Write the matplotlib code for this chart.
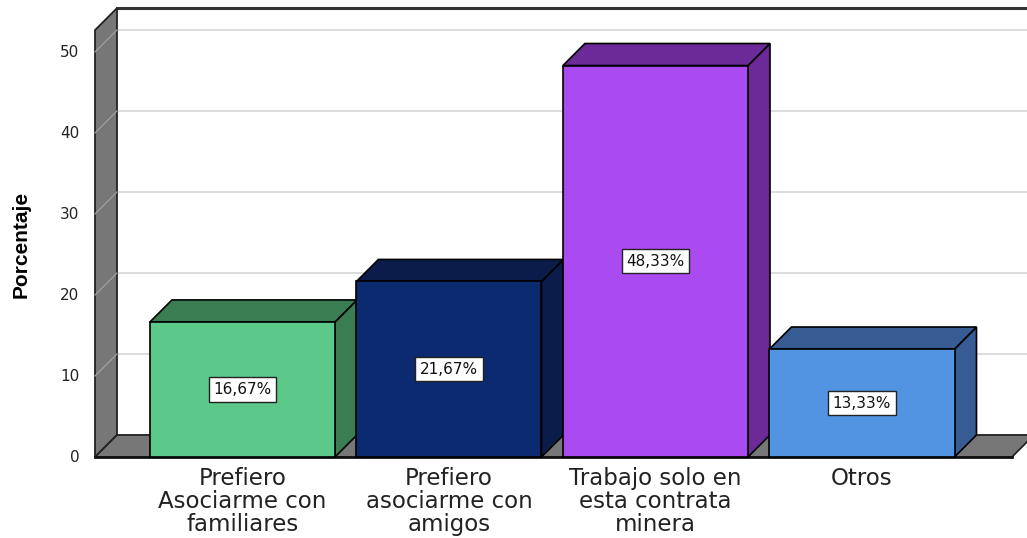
import matplotlib
matplotlib.use("Agg")
import matplotlib.pyplot as plt
from matplotlib.patches import Polygon

# ---- data ----
categories = ["Prefiero\nAsociarme con\nfamiliares",
              "Prefiero\nasociarme con\namigos",
              "Trabajo solo en\nesta contrata\nminera",
              "Otros"]
values = [16.67, 21.67, 48.33, 13.33]
value_labels = ["16,67%", "21,67%", "48,33%", "13,33%"]
y_ticks = [0, 10, 20, 30, 40, 50]
y_label = "Porcentaje"

front_colors = ["#5CC98B", "#0B2A6F", "#A94BF0", "#5294E2"]
dark_colors = ["#3A7D52", "#0A1C4A", "#6B2A97", "#365C93"]

# ---- layout ----
W, H = 1027, 538
fig = plt.figure(figsize=(W / 100, H / 100), dpi=100)
ax = fig.add_axes([0, 0, 1, 1])
ax.set_xlim(-1.174, 3.799)
ax.set_ylim(-10.0, 56.42)
ax.axis("off")

bar_w = 0.896
dx = 0.1065      # depth offset in category units
dy = 2.72        # depth offset in value units
x_left = -0.714  # front edge of left wall
x_right_floor = 3.726
y_max = 52.7
x_far = 4.0

wall_gray = "#777777"
grid_col = "#D2D2D2"

# back wall gridlines
for v in y_ticks[1:]:
    ax.plot([x_left + dx, x_far], [v + dy, v + dy], color=grid_col, lw=1.1, zorder=1)
# back wall top edge
ax.plot([x_left + dx, x_far], [y_max + dy, y_max + dy], color="#333333", lw=2.2, zorder=2)

# left wall
lw_poly = Polygon([(x_left, 0), (x_left, y_max), (x_left + dx, y_max + dy), (x_left + dx, dy)],
                  closed=True, facecolor=wall_gray, edgecolor="#222222", lw=1.3, zorder=2)
ax.add_patch(lw_poly)
for v in y_ticks[1:]:
    ax.plot([x_left, x_left + dx], [v, v + dy], color="#A0A0A0", lw=0.9, zorder=3)

# floor
floor = Polygon([(x_left, 0), (x_right_floor, 0), (x_right_floor + dx, dy), (x_left + dx, dy)],
                closed=True, facecolor=wall_gray, edgecolor="#222222", lw=1.3, zorder=2)
ax.add_patch(floor)
ax.plot([x_left, x_right_floor], [0, 0], color="#111111", lw=2.0, zorder=3)

# bars
for i, (v, fc, dc, lab) in enumerate(zip(values, front_colors, dark_colors, value_labels)):
    l = i - bar_w / 2
    r = i + bar_w / 2
    side = Polygon([(r, 0), (r + dx, dy), (r + dx, v + dy), (r, v)], closed=True,
                   facecolor=dc, edgecolor="black", lw=1.2, zorder=4)
    top = Polygon([(l, v), (l + dx, v + dy), (r + dx, v + dy), (r, v)], closed=True,
                  facecolor=dc, edgecolor="black", lw=1.2, zorder=4)
    front = Polygon([(l, 0), (r, 0), (r, v), (l, v)], closed=True,
                    facecolor=fc, edgecolor="black", lw=1.2, zorder=5)
    ax.add_patch(side)
    ax.add_patch(top)
    ax.add_patch(front)
    ax.text(i, v / 2, lab, ha="center", va="center", fontsize=11,
            family="DejaVu Sans", color="#111111", zorder=6,
            bbox=dict(boxstyle="square,pad=0.3", facecolor="white", edgecolor="#222222", lw=1.0))
    ax.text(i, -1.25, categories[i], ha="center", va="top", fontsize=16.5,
            family="DejaVu Sans", color="#222222", linespacing=1.0, zorder=6)

# y tick labels
for v in y_ticks:
    ax.text(x_left - 0.075, v, str(v), ha="right", va="center", fontsize=11,
            family="DejaVu Sans", color="#222222")

ax.text(-1.07, 26.2, y_label, rotation=90, ha="center", va="center",
        fontsize=15, fontweight="bold", family="Liberation Sans", color="black")

fig.savefig("out.png", dpi=100, facecolor="white")
